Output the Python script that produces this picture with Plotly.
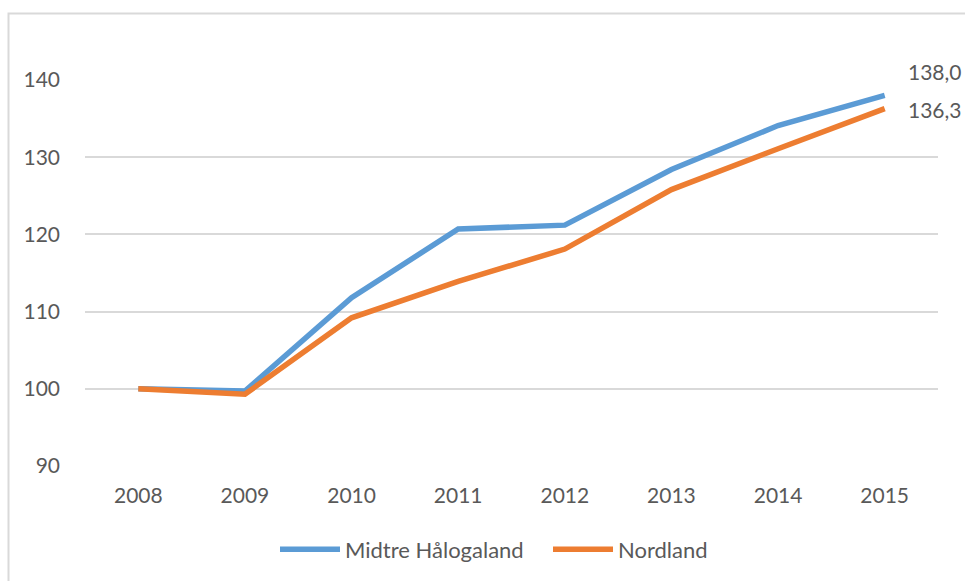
import plotly.graph_objects as go

years = ["2008", "2009", "2010", "2011", "2012", "2013", "2014", "2015"]
midtre = [100.0, 99.7, 111.8, 120.7, 121.2, 128.4, 134.1, 138.0]
nordland = [100.0, 99.3, 109.2, 113.9, 118.1, 125.8, 131.1, 136.3]
y_ticks = [90, 100, 110, 120, 130, 140]

BLUE = "#5B9BD5"
ORANGE = "#ED7D31"
TXT = "#595959"
FONT = "Lato"

L, R, T, B = 85, 27, 80, 115
W, H = 965, 581
pw, ph = W - L - R, H - T - B


def fmt(v):
    return f"{v:.1f}".replace(".", ",")


fig = go.Figure()
fig.add_trace(go.Scatter(x=years, y=midtre, mode="lines", name="Midtre Hålogaland",
                         line=dict(color=BLUE, width=5.5), cliponaxis=False))
fig.add_trace(go.Scatter(x=years, y=nordland, mode="lines", name="Nordland",
                         line=dict(color=ORANGE, width=5.5), cliponaxis=False))

# data labels at the last category (category index on the category axis)
last_idx = len(years) - 1
fig.add_annotation(x=last_idx, y=midtre[-1], xref="x", yref="y", text=fmt(midtre[-1]),
                   showarrow=False, xanchor="left", yanchor="middle", xshift=21, yshift=24,
                   font=dict(family=FONT, size=21, color=TXT))
fig.add_annotation(x=last_idx, y=nordland[-1], xref="x", yref="y", text=fmt(nordland[-1]),
                   showarrow=False, xanchor="left", yanchor="middle", xshift=21, yshift=-1,
                   font=dict(family=FONT, size=21, color=TXT))

# outer chart border
fig.add_shape(type="rect", xref="paper", yref="paper",
              x0=(8.5 - L) / pw, x1=(W + 10 - L) / pw,
              y0=(H - B - (H + 10)) / ph, y1=(H - B - 13.5) / ph,
              line=dict(color="#D9D9D9", width=2), fillcolor="rgba(0,0,0,0)", layer="below")

fig.update_layout(
    width=W, height=H,
    margin=dict(l=L, r=R, t=T, b=B, autoexpand=False),
    paper_bgcolor="white", plot_bgcolor="white",
    font=dict(family=FONT, size=20, color=TXT),
    showlegend=True,
    legend=dict(orientation="h", x=(275 - L) / pw, xanchor="left", y=-0.162, yanchor="top",
                font=dict(family=FONT, size=22, color=TXT), itemwidth=60,
                entrywidth=198, traceorder="normal"),
    xaxis=dict(type="category", range=[-0.5, 7.5], showgrid=False, zeroline=False,
               showline=False, ticks="", ticklabelstandoff=15,
               tickfont=dict(family=FONT, size=21, color=TXT)),
    yaxis=dict(range=[90, 140], tickvals=y_ticks, showgrid=True, gridcolor="#D9D9D9",
               gridwidth=1.5, zeroline=False, showline=False, ticks="",
               ticklabelstandoff=24, tickfont=dict(family=FONT, size=21, color=TXT)),
)

fig.write_html("out.html", config={"displayModeBar": False})
with open("out.html", "r", encoding="utf-8") as f:
    html = f.read()
html = html.replace("<head>", "<head><style>html,body{margin:0;padding:0;overflow:hidden;}</style>", 1)
with open("out.html", "w", encoding="utf-8") as f:
    f.write(html)
